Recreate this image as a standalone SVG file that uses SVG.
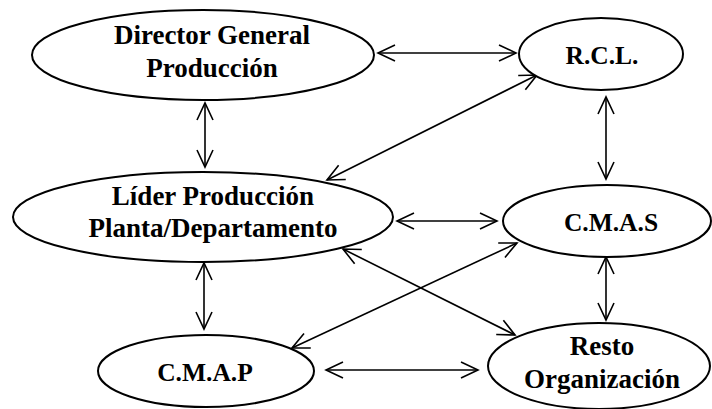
<svg xmlns="http://www.w3.org/2000/svg" width="712" height="409" viewBox="0 0 712 409">
<style>
.node ellipse{fill:#fff;stroke:#000;stroke-width:2}
.node text{font-family:"Liberation Serif","Times New Roman",serif;font-weight:bold;font-size:27px;fill:#000;text-anchor:middle}
.node text.abbr{font-size:25.5px}
#connectors line{stroke:#000;stroke-width:1.6;fill:none;marker-start:url(#arr);marker-end:url(#arr)}
</style>
<defs>
<marker id="arr" viewBox="0 0 20 20" refX="18" refY="10" markerWidth="20" markerHeight="20" markerUnits="userSpaceOnUse" orient="auto-start-reverse">
<path d="M1,2 L18,10 L1,18" fill="none" stroke="#000" stroke-width="1.6"/>
</marker>
</defs>
<rect width="712" height="409" fill="#fff"/>
<g id="connectors">
<line x1="378" y1="53" x2="516" y2="53"/>
<line x1="205" y1="103" x2="205" y2="167"/>
<line x1="606" y1="97" x2="606" y2="179"/>
<line x1="327" y1="180" x2="537" y2="75"/>
<line x1="397" y1="221" x2="497" y2="221"/>
<line x1="292" y1="348" x2="517" y2="243"/>
<line x1="343" y1="249" x2="515" y2="335"/>
<line x1="204" y1="263" x2="204" y2="329"/>
<line x1="606" y1="257" x2="606" y2="320"/>
<line x1="326" y1="370" x2="478" y2="370"/>
</g>
<g id="director" class="node">
<ellipse cx="203" cy="55" rx="171" ry="45"/>
<text x="212" y="44">Director General</text>
<text x="212" y="77">Producción</text>
</g>
<g id="rcl" class="node">
<ellipse cx="601" cy="54" rx="82" ry="36"/>
<text class="abbr" x="602" y="64">R.C.L.</text>
</g>
<g id="lider" class="node">
<ellipse cx="203" cy="217" rx="190" ry="45"/>
<text x="213" y="205">Líder Producción</text>
<text x="213" y="237">Planta/Departamento</text>
</g>
<g id="cmas" class="node">
<ellipse cx="607" cy="221" rx="104" ry="36"/>
<text class="abbr" x="611" y="231">C.M.A.S</text>
</g>
<g id="cmap" class="node">
<ellipse cx="206" cy="371" rx="108" ry="36"/>
<text class="abbr" x="205" y="381">C.M.A.P</text>
</g>
<g id="resto" class="node">
<ellipse cx="599" cy="366" rx="111" ry="43"/>
<text x="602" y="355">Resto</text>
<text x="602" y="388">Organización</text>
</g>
</svg>
